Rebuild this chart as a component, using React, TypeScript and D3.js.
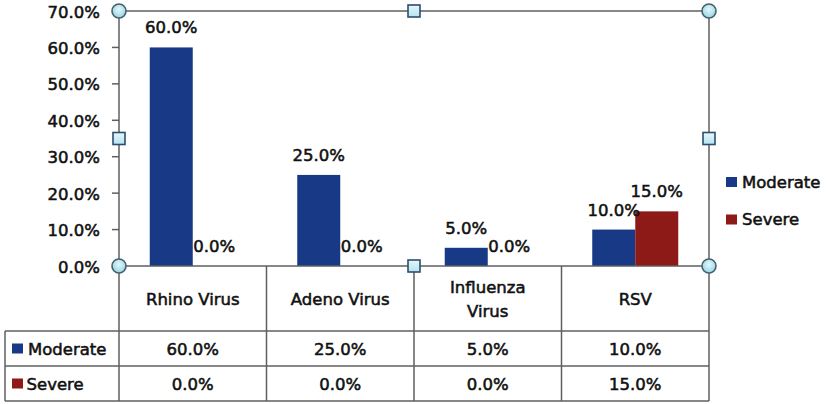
import React from "react";
import * as d3 from "d3";

const categories = ["Rhino Virus", "Adeno Virus", "Influenza Virus", "RSV"];
const categoryLines = [["Rhino Virus"], ["Adeno Virus"], ["Influenza", "Virus"], ["RSV"]];
const seriesNames = ["Moderate", "Severe"];
const moderate = [0.6, 0.25, 0.05, 0.1];
const severe = [0.0, 0.0, 0.0, 0.15];
const yTicks = [0, 0.1, 0.2, 0.3, 0.4, 0.5, 0.6, 0.7];
const colors = ["#183A86", "#8E1A17"];

const W = 829;
const H = 404;
const left = 119;
const right = 709;
const top = 11;
const bottom = 266;
const tableLeft = 5;
const headerBottom = 331;
const row1Bottom = 366;
const row2Bottom = 401;

const FONT = "'DejaVu Sans', Verdana, sans-serif";
const FS = 16.5;
const txt = { fontFamily: FONT, fontSize: FS, fill: "#111", stroke: "#111", strokeWidth: 0.55 } as const;
const lineColor = "#5f5f5f";

export default function App() {
  const values = [moderate, severe];
  const fmt = d3.format(".1%");
  const y = d3.scaleLinear().domain([0, 0.7]).range([bottom, top]);
  const x = d3.scaleBand<string>().domain(categories).range([left, right]).padding(0);
  const xs = d3
    .scaleBand<string>()
    .domain(seriesNames)
    .range([0, x.bandwidth()])
    .paddingInner(0)
    .paddingOuter(0.715);

  const handleCircle = (cx: number, cy: number, k: string) => (
    <circle key={k} cx={cx} cy={cy} r={7} fill="url(#hc)" stroke="#45606f" strokeWidth={1.6} />
  );
  const handleSquare = (cx: number, cy: number, k: string) => (
    <rect key={k} x={cx - 6} y={cy - 6} width={12} height={12} fill="url(#hs)" stroke="#2f4d6c" strokeWidth={1.6} />
  );

  return (
    <svg width={W} height={H} style={{ position: "absolute", left: 0, top: 0, background: "#fff" }}>
      <defs>
        <radialGradient id="hc" cx="50%" cy="40%" r="60%">
          <stop offset="0%" stopColor="#e4f7fa" />
          <stop offset="100%" stopColor="#96d5e3" />
        </radialGradient>
        <linearGradient id="hs" x1="0" y1="0" x2="0" y2="1">
          <stop offset="0%" stopColor="#e6f7fc" />
          <stop offset="100%" stopColor="#b5e3f2" />
        </linearGradient>
      </defs>
      <rect x={0} y={0} width={W} height={H} fill="#fff" />

      {/* bars */}
      {seriesNames.map((s, si) =>
        categories.map((c, ci) => {
          const v = values[si][ci];
          const bx = (x(c) as number) + (xs(s) as number);
          return (
            <rect
              key={s + c}
              x={bx}
              y={y(v)}
              width={xs.bandwidth()}
              height={bottom - y(v)}
              fill={colors[si]}
            />
          );
        })
      )}

      {/* data labels */}
      {seriesNames.map((s, si) =>
        categories.map((c, ci) => {
          const v = values[si][ci];
          const bx = (x(c) as number) + (xs(s) as number) + xs.bandwidth() / 2;
          return (
            <text key={"l" + s + c} x={bx} y={y(v) - 14} textAnchor="middle" {...txt}>
              {fmt(v)}
            </text>
          );
        })
      )}

      {/* plot border */}
      <line x1={left} y1={top} x2={right} y2={top} stroke={lineColor} strokeWidth={1.5} />
      <line x1={right} y1={top} x2={right} y2={bottom} stroke={lineColor} strokeWidth={1.5} />
      <line x1={left} y1={top} x2={left} y2={row2Bottom} stroke={lineColor} strokeWidth={1.5} />

      {/* y ticks */}
      {yTicks.map((t) => (
        <g key={"t" + t}>
          <line x1={left - 7} x2={left} y1={y(t)} y2={y(t)} stroke={lineColor} strokeWidth={1.5} />
          <text x={100} y={y(t) + 2} textAnchor="end" dominantBaseline="middle" {...txt}>
            {fmt(t)}
          </text>
        </g>
      ))}

      {/* data table */}
      <line x1={left} y1={bottom} x2={right} y2={bottom} stroke={lineColor} strokeWidth={1.5} />
      <line x1={tableLeft} y1={headerBottom} x2={right} y2={headerBottom} stroke={lineColor} strokeWidth={1.5} />
      <line x1={tableLeft} y1={row1Bottom} x2={right} y2={row1Bottom} stroke={lineColor} strokeWidth={1.5} />
      <line x1={tableLeft} y1={row2Bottom} x2={right} y2={row2Bottom} stroke={lineColor} strokeWidth={1.5} />
      <line x1={tableLeft} y1={headerBottom} x2={tableLeft} y2={row2Bottom} stroke={lineColor} strokeWidth={1.5} />
      {categories.map((c) => (
        <line
          key={"v" + c}
          x1={(x(c) as number) + x.bandwidth()}
          x2={(x(c) as number) + x.bandwidth()}
          y1={bottom}
          y2={row2Bottom}
          stroke={lineColor}
          strokeWidth={1.5}
        />
      ))}
      {categories.map((c, ci) => {
        const cx = (x(c) as number) + x.bandwidth() / 2;
        const lines = categoryLines[ci];
        const mid = (bottom + headerBottom) / 2 + 2;
        return lines.map((ln, li) => (
          <text
            key={"h" + c + li}
            x={cx}
            y={mid + (li - (lines.length - 1) / 2) * 24}
            textAnchor="middle"
            dominantBaseline="middle"
            {...txt}
          >
            {ln}
          </text>
        ));
      })}
      {seriesNames.map((s, si) => {
        const rTop = si === 0 ? headerBottom : row1Bottom;
        const rBot = si === 0 ? row1Bottom : row2Bottom;
        const mid = (rTop + rBot) / 2 + 2;
        return (
          <g key={"row" + s}>
            <rect x={12} y={mid - 7} width={11} height={10} fill={colors[si]} />
            <text x={si === 0 ? 28 : 26.5} y={mid} dominantBaseline="middle" {...txt}>
              {s}
            </text>
            {categories.map((c, ci) => (
              <text
                key={"c" + s + c}
                x={(x(c) as number) + x.bandwidth() / 2}
                y={mid}
                textAnchor="middle"
                dominantBaseline="middle"
                {...txt}
              >
                {fmt(values[si][ci])}
              </text>
            ))}
          </g>
        );
      })}

      {/* legend */}
      {seriesNames.map((s, si) => (
        <g key={"lg" + s}>
          <rect x={726} y={177 + si * 37.5} width={11} height={10} fill={colors[si]} />
          <text x={742} y={182 + si * 37.5 + 1} dominantBaseline="middle" {...txt}>
            {s}
          </text>
        </g>
      ))}

      {/* selection handles */}
      {handleCircle(left, top, "c1")}
      {handleCircle(right, top, "c2")}
      {handleCircle(left, bottom, "c3")}
      {handleCircle(right, bottom, "c4")}
      {handleSquare((left + right) / 2, top, "s1")}
      {handleSquare((left + right) / 2, bottom, "s2")}
      {handleSquare(left, (top + bottom) / 2, "s3")}
      {handleSquare(right, (top + bottom) / 2, "s4")}
    </svg>
  );
}
